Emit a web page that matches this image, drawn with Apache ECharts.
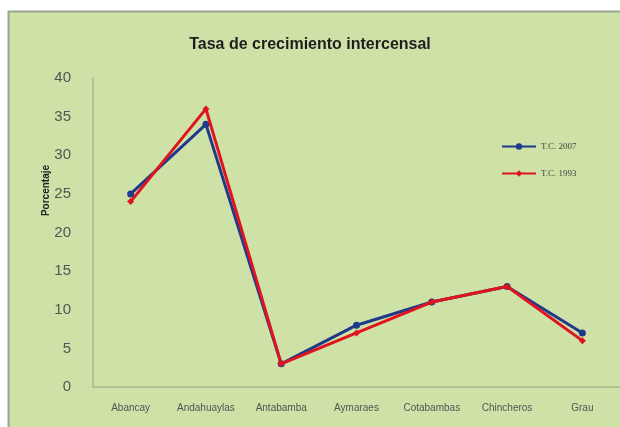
<!DOCTYPE html>
<html>
<head>
<meta charset="utf-8">
<script src="https://cdn.jsdelivr.net/npm/echarts@6/dist/echarts.min.js"></script>
<style>
html,body{margin:0;padding:0;background:#ffffff;}
#chart{width:620px;height:427px;}
</style>
</head>
<body>
<div id="chart"></div>
<script>
var categories = ["Abancay", "Andahuaylas", "Antabamba", "Aymaraes", "Cotabambas", "Chincheros", "Grau"];
var tc2007 = [25, 34, 3, 8, 11, 13, 7];
var tc1993 = [24, 36, 3, 7, 11, 13, 6];
var seriesNames = ["T.C. 2007", "T.C. 1993"];
var titleText = "Tasa de crecimiento intercensal";
var yAxisName = "Porcentaje";

var chart = echarts.init(document.getElementById('chart'));
chart.setOption({
  animation: false,
  backgroundColor: '#ffffff',
  graphic: [{
    type: 'rect',
    z: -10,
    shape: { x: 8.5, y: 11.5, width: 640, height: 440 },
    style: { fill: '#cee1a7', stroke: '#9aa38c', lineWidth: 2 }
  }],
  title: {
    text: titleText,
    left: 'center',
    top: 32,
    textStyle: { fontFamily: 'Liberation Sans Narrow, Arial', fontWeight: 'bold', fontSize: 16, color: '#1e1e1e' }
  },
  legend: {
    orient: 'vertical',
    left: 496,
    top: 137,
    itemGap: 18,
    itemWidth: 34,
    itemHeight: 8,
    textStyle: { fontFamily: 'Liberation Serif, serif', fontSize: 9, color: '#444' },
    data: seriesNames
  },
  grid: { left: 93, top: 78, width: 532, height: 309, containLabel: false },
  xAxis: {
    type: 'category',
    data: categories,
    boundaryGap: true,
    axisLine: { show: true, lineStyle: { color: '#a9b893', width: 1.5 } },
    axisTick: { show: false },
    axisLabel: { interval: 0, fontFamily: 'Liberation Sans Narrow, Arial', fontSize: 10, color: '#555', margin: 16 }
  },
  yAxis: {
    type: 'value',
    min: 0, max: 40, interval: 5,
    name: yAxisName,
    nameLocation: 'middle',
    nameRotate: 90,
    nameGap: 42,
    nameMoveOverlap: false,
    nameTextStyle: { fontFamily: 'Liberation Sans, Arial', fontWeight: 'bold', fontSize: 10, color: '#222', padding: [0, 0, 0, 84] },
    axisLine: { show: true, lineStyle: { color: '#a9b893', width: 1.5 } },
    axisTick: { show: false },
    splitLine: { show: false },
    axisLabel: { fontFamily: 'Liberation Sans Narrow, Arial', fontSize: 15, color: '#555', margin: 22 }
  },
  series: [{
    name: seriesNames[0],
    type: 'line',
    data: tc2007,
    symbol: 'circle',
    symbolSize: 7,
    lineStyle: { color: '#1f3a8a', width: 3 },
    itemStyle: { color: '#1f3a8a' },
    z: 2
  }, {
    name: seriesNames[1],
    type: 'line',
    data: tc1993,
    symbol: 'diamond',
    symbolSize: 7,
    lineStyle: { color: '#e0141e', width: 3 },
    itemStyle: { color: '#e0141e' },
    z: 3
  }]
});
</script>
</body>
</html>
